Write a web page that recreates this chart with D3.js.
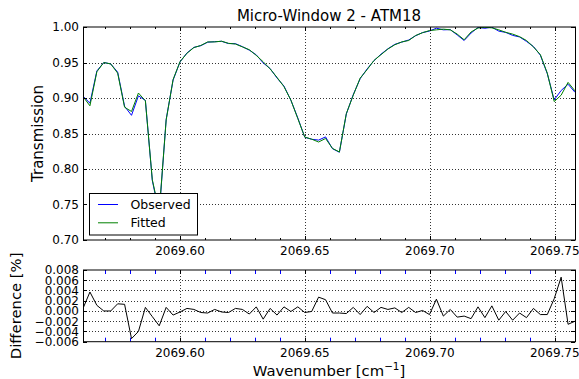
<!DOCTYPE html>
<html><head><meta charset="utf-8">
<script src="https://cdn.jsdelivr.net/npm/d3@7"></script>
<style>
html,body{margin:0;padding:0;background:#fff;}
svg{display:block;font-family:"DejaVu Sans",sans-serif;}
</style></head>
<body>
<svg id="c" width="579" height="379"></svg>
<script>
const wavenumber = [2069.56120,2069.56397,2069.56675,2069.56952,2069.57229,2069.57507,2069.57784,2069.58061,2069.58338,2069.58616,
2069.58893,2069.59170,2069.59448,2069.59725,2069.60002,2069.60280,2069.60557,2069.60834,2069.61111,2069.61389,
2069.61666,2069.61943,2069.62221,2069.62498,2069.62775,2069.63053,2069.63330,2069.63607,2069.63884,2069.64162,
2069.64439,2069.64716,2069.64994,2069.65271,2069.65548,2069.65826,2069.66103,2069.66380,2069.66657,2069.66935,
2069.67212,2069.67489,2069.67767,2069.68044,2069.68321,2069.68599,2069.68876,2069.69153,2069.69430,2069.69708,
2069.69985,2069.70262,2069.70540,2069.70817,2069.71094,2069.71372,2069.71649,2069.71926,2069.72203,2069.72481,
2069.72758,2069.73035,2069.73313,2069.73590,2069.73867,2069.74145,2069.74422,2069.74699,2069.74976,2069.75254,
2069.75531,2069.75808];
const fitted = [0.902,0.889,0.937,0.950,0.948,0.935,0.887,0.881,0.907,0.896,
0.785,0.740,0.869,0.926,0.951,0.963,0.971,0.974,0.979,0.979,
0.980,0.977,0.976,0.972,0.968,0.960,0.951,0.941,0.929,0.916,
0.897,0.871,0.845,0.842,0.838,0.843,0.829,0.824,0.878,0.904,
0.928,0.940,0.953,0.961,0.969,0.975,0.979,0.981,0.988,0.992,
0.995,0.996,0.997,0.996,0.990,0.982,0.993,0.9986,0.9995,0.9988,
0.996,0.9925,0.990,0.9864,0.981,0.972,0.961,0.935,0.895,0.904,
0.922,0.910];
const observed = [0.9025,0.8927,0.9381,0.9500,0.9480,0.9364,0.8883,0.8756,0.9030,0.8967,
0.7839,0.7371,0.8697,0.9252,0.9508,0.9635,0.9713,0.9737,0.9786,0.9793,
0.9798,0.9767,0.9765,0.9723,0.9674,0.9608,0.9494,0.9415,0.9282,0.9168,
0.8969,0.8718,0.8447,0.8419,0.8407,0.8452,0.8286,0.8236,0.8775,0.9047,
0.9273,0.9409,0.9527,0.9617,0.9693,0.9756,0.9787,0.9817,0.9877,0.9921,
0.9943,0.9983,0.9960,0.9963,0.9888,0.9810,0.9915,0.9994,0.9982,0.9998,
0.9942,0.9924,0.9882,0.9860,0.9797,0.9725,0.9603,0.9343,0.8974,0.9106,
0.9194,0.9080];
const difference = [0.0005,0.0037,0.0011,0.0000,0.0000,0.0014,0.0013,-0.0054,-0.0040,0.0007,
-0.0011,-0.0029,0.0007,-0.0008,-0.0002,0.0005,0.0003,-0.0003,-0.0004,0.0003,
-0.0002,-0.0003,0.0005,0.0003,-0.0006,0.0008,-0.0016,0.0005,-0.0008,0.0008,
-0.0001,0.0008,-0.0003,-0.0001,0.0027,0.0022,-0.0004,-0.0004,-0.0005,0.0007,
-0.0007,0.0009,-0.0003,0.0007,0.0003,0.0006,-0.0003,0.0007,-0.0003,0.0001,
-0.0007,0.0023,-0.0010,0.0003,-0.0012,-0.0010,-0.0015,0.0008,-0.0013,0.0010,
-0.0018,-0.0001,-0.0018,-0.0004,-0.0013,0.0005,-0.0007,-0.0007,0.0024,0.0066,
-0.0026,-0.0020];
const xMajorTicks = [2069.60,2069.65,2069.70,2069.75];
const xMajorLabels = ["2069.60","2069.65","2069.70","2069.75"];
const xMinorTicks = [2069.57,2069.58,2069.59,2069.61,2069.62,2069.63,2069.64,2069.66,2069.67,2069.68,2069.69,2069.71,2069.72,2069.73,2069.74];
const yTopTicks = [0.70,0.75,0.80,0.85,0.90,0.95,1.00];
const yTopLabels = ["0.70","0.75","0.80","0.85","0.90","0.95","1.00"];
const yBotTicks = [-0.006,-0.004,-0.002,0.000,0.002,0.004,0.006,0.008];
const yBotLabels = ["\u22120.006","\u22120.004","\u22120.002","0.000","0.002","0.004","0.006","0.008"];
const seriesNames = ["Observed","Fitted"];
const seriesColors = ["#0000ff","#008000"];
const titleText = "Micro-Window 2 - ATM18";

const svg = d3.select("#c");
const L = 83, R = 575;
const top1 = 27, bot1 = 240, top2 = 270, bot2 = 341.7;
const x = d3.scaleLinear().domain([wavenumber[0], wavenumber[wavenumber.length-1]]).range([L, R]);
const y1 = d3.scaleLinear().domain([0.70, 1.00]).range([bot1, top1]);
const y2 = d3.scaleLinear().domain([-0.006, 0.008]).range([bot2, top2]);

const defs = svg.append("defs");
defs.append("clipPath").attr("id","clip1").append("rect").attr("x",L).attr("y",top1).attr("width",R-L).attr("height",bot1-top1);
defs.append("clipPath").attr("id","clip2").append("rect").attr("x",L).attr("y",top2).attr("width",R-L).attr("height",bot2-top2);

function grid(yScale, yT, t, b) {
  const g = svg.append("g");
  g.selectAll(".vg").data(xMajorTicks).join("line")
    .attr("x1", d=>Math.round(x(d))+0.5).attr("x2", d=>Math.round(x(d))+0.5)
    .attr("y1", t).attr("y2", b)
    .attr("stroke","#000").attr("stroke-width",0.8).attr("stroke-dasharray","1,2");
  g.selectAll(".hg").data(yT).join("line")
    .attr("x1", L).attr("x2", R)
    .attr("y1", d=>Math.round(yScale(d))+0.5).attr("y2", d=>Math.round(yScale(d))+0.5)
    .attr("stroke","#000").attr("stroke-width",0.8).attr("stroke-dasharray","1,2");
}

function frame(yScale, yT, yLabels, t, b, minorColor, minorLen, xLabelY) {
  const g = svg.append("g");
  xMajorTicks.forEach(d => {
    const xx = Math.round(x(d))+0.5;
    g.append("line").attr("x1",xx).attr("x2",xx).attr("y1",b).attr("y2",b-4).attr("stroke","#000");
    g.append("line").attr("x1",xx).attr("x2",xx).attr("y1",t).attr("y2",t+4).attr("stroke","#000");
  });
  xMinorTicks.forEach(d => {
    const xx = Math.round(x(d))+0.5;
    g.append("line").attr("x1",xx).attr("x2",xx).attr("y1",b).attr("y2",b-minorLen).attr("stroke",minorColor);
    g.append("line").attr("x1",xx).attr("x2",xx).attr("y1",t).attr("y2",t+minorLen).attr("stroke",minorColor);
  });
  yT.forEach(d => {
    const yy = Math.round(yScale(d))+0.5;
    g.append("line").attr("x1",L).attr("x2",L+4).attr("y1",yy).attr("y2",yy).attr("stroke","#000");
    g.append("line").attr("x1",R).attr("x2",R-4).attr("y1",yy).attr("y2",yy).attr("stroke","#000");
  });
  g.append("rect").attr("x",L+0.5).attr("y",t).attr("width",R-L).attr("height",b-t)
    .attr("fill","none").attr("stroke","#000").attr("stroke-width",1);
  g.selectAll(".yl").data(yT).join("text")
    .attr("x", L-4).attr("y", d=>yScale(d)).attr("dy","0.36em")
    .attr("text-anchor","end").attr("font-size",12).attr("fill","#000")
    .text((d,i)=>yLabels[i]);
  g.selectAll(".xl").data(xMajorTicks).join("text")
    .attr("x", d=>x(d)).attr("y", xLabelY)
    .attr("text-anchor","middle").attr("font-size",12).attr("fill","#000")
    .text((d,i)=>xMajorLabels[i]);
}

// Top panel
grid(y1, yTopTicks.slice(1,-1), top1, bot1);
const line1 = d3.line().x((d,i)=>x(wavenumber[i])).y(d=>y1(d));
const gl = svg.append("g").attr("clip-path","url(#clip1)");
gl.append("path").datum(observed).attr("d",line1).attr("fill","none").attr("stroke",seriesColors[0]).attr("stroke-width",1);
gl.append("path").datum(fitted).attr("d",line1).attr("fill","none").attr("stroke",seriesColors[1]).attr("stroke-width",1);
frame(y1, yTopTicks, yTopLabels, top1, bot1, "#000", 2, 254.5);

// legend
const lg = svg.append("g");
lg.append("rect").attr("x",89.5).attr("y",193.5).attr("width",108).attr("height",41.5)
  .attr("fill","#fff").attr("stroke","#000").attr("stroke-width",1);
seriesNames.forEach((n,i)=>{
  const yy = 204.5 + i*18.3;
  lg.append("line").attr("x1",98).attr("x2",118).attr("y1",yy).attr("y2",yy).attr("stroke",seriesColors[i]).attr("stroke-width",1);
  lg.append("text").attr("x",130.5).attr("y",yy+4.2).attr("font-size",12.5).attr("fill","#000").text(n);
});

// Bottom panel
grid(y2, yBotTicks.slice(1,-1), top2, bot2);
const line2 = d3.line().x((d,i)=>x(wavenumber[i])).y(d=>y2(d));
svg.append("g").attr("clip-path","url(#clip2)").append("path").datum(difference).attr("d",line2)
  .attr("fill","none").attr("stroke","#000").attr("stroke-width",1);
frame(y2, yBotTicks, yBotLabels, top2, bot2, "#0000ff", 4, 356.7);

// titles and axis labels
svg.append("text").attr("x",(L+R)/2).attr("y",21).attr("text-anchor","middle").attr("font-size",15).text(titleText);
const xl = svg.append("text").attr("x",(L+R)/2).attr("y",375.5).attr("text-anchor","middle").attr("font-size",14.8);
xl.append("tspan").text("Wavenumber [cm");
xl.append("tspan").attr("font-size",10.4).attr("dy",-5.7).text("\u22121");
xl.append("tspan").attr("dy",5.7).text("]");
svg.append("text").attr("transform",`translate(42.5,${(top1+bot1)/2}) rotate(-90)`).attr("text-anchor","middle").attr("font-size",15).text("Transmission");
svg.append("text").attr("transform",`translate(20.5,${(top2+bot2)/2}) rotate(-90)`).attr("text-anchor","middle").attr("font-size",14.8).text("Difference [%]");
</script>
</body></html>
